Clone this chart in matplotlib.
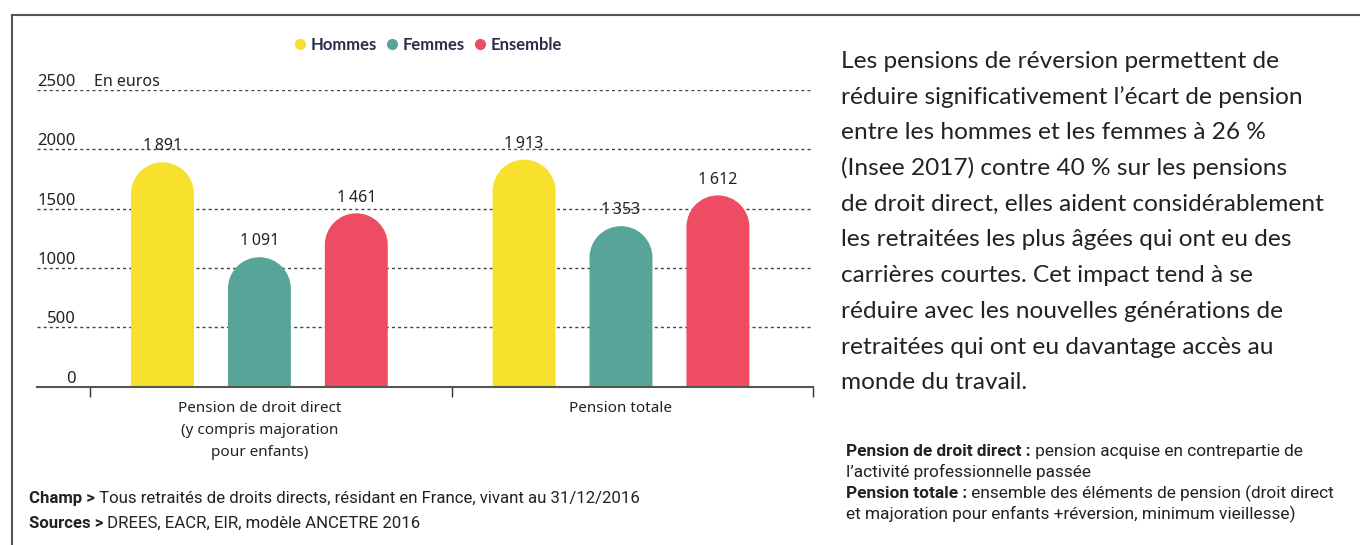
import matplotlib
matplotlib.use("Agg")
import matplotlib.pyplot as plt
import matplotlib.transforms as mtransforms
from matplotlib.patches import PathPatch
from matplotlib.path import Path
from matplotlib.lines import Line2D
from matplotlib import font_manager

# --- data -------------------------------------------------------------
categories = ["Pension de droit direct\n(y compris majoration\npour enfants)",
              "Pension totale"]
series_names = ["Hommes", "Femmes", "Ensemble"]
hommes = [1891, 1913]
femmes = [1091, 1353]
ensemble = [1461, 1612]
y_ticks = [0, 500, 1000, 1500, 2000, 2500]
colors = ["#f7e12c", "#56a598", "#ee4c62"]

paragraph = [
    "Les pensions de réversion permettent de",
    "réduire significativement l\u2019écart de pension",
    "entre les hommes et les femmes à 26 %",
    "(Insee 2017) contre 40 % sur les pensions",
    "de droit direct, elles aident considérablement",
    "les retraitées les plus âgées qui ont eu des",
    "carrières courtes. Cet impact tend à se",
    "réduire avec les nouvelles générations de",
    "retraitées qui ont eu davantage accès au",
    "monde du travail.",
]
notes = [
    ("Pension de droit direct :", " pension acquise en contrepartie de"),
    ("", "l\u2019activité professionnelle passée"),
    ("Pension totale :", " ensemble des éléments de pension (droit direct"),
    ("", "et majoration pour enfants +réversion, minimum vieillesse)"),
]
footer = [
    ("Champ >", " Tous retraités de droits directs, résidant en France, vivant au 31/12/2016"),
    ("Sources >", " DREES, EACR, EIR, modèle ANCETRE 2016"),
]

# --- fonts ------------------------------------------------------------
installed = {f.name for f in font_manager.fontManager.ttflist}
if "Liberation Sans Narrow" in installed:
    narrow, notes_size, footer_size = "Liberation Sans Narrow", 14, 13.7
else:
    narrow, notes_size, footer_size = "Roboto", 12.4, 12.1
plt.rcParams["font.family"] = ["Noto Sans", "DejaVu Sans"]
text_color = "#222222"
navy = "#2e2b4d"

W, H = 1360, 545
fig = plt.figure(figsize=(W / 100, H / 100), dpi=100)


def fx(x):
    return x / W


def fy(y):
    return 1 - y / H


# frame (top and left edges)
fig.add_artist(Line2D([fx(12), 1], [fy(15), fy(15)], color="#555555", lw=1.5))
fig.add_artist(Line2D([fx(12), fx(12)], [fy(15), 0], color="#555555", lw=1.5))

# --- bar chart --------------------------------------------------------
ax = fig.add_axes([fx(37), fy(386.7), fx(776), (386.7 - 90) / H])

group_x = [0, 1]
offset = 0.268
width = 0.174
ax.set_xlim(-0.615, 1.531)
ax.set_ylim(0, 2500)

# pixels per data unit, needed to make the rounded tops circular
p0 = ax.transData.transform((0, 0))
p1 = ax.transData.transform((1, 1))
ppu_x, ppu_y = p1[0] - p0[0], p1[1] - p0[1]
ry = (width / 2) * ppu_x / ppu_y
arc = Path.arc(0, 180)


def rounded_bar(x, v, col):
    hw = width / 2
    top = v - ry
    arc_verts = [(x + hw * px, top + ry * py) for px, py in arc.vertices]
    verts = [(x - hw, 0), (x + hw, 0), (x + hw, top)] + arc_verts[1:] + [(x - hw, 0)]
    codes = ([Path.MOVETO, Path.LINETO, Path.LINETO] + list(arc.codes[1:])
             + [Path.CLOSEPOLY])
    ax.add_patch(PathPatch(Path(verts, codes), facecolor=col, lw=0, zorder=2))


for i, (vals, col) in enumerate(zip([hommes, femmes, ensemble], colors)):
    for gx, v in zip(group_x, vals):
        x = gx + (i - 1) * offset
        rounded_bar(x, v, col)
        ax.annotate(f"{v:,}".replace(",", "\u2009"), (x, v), xytext=(0, 8.5),
                    textcoords="offset points", ha="center", va="baseline",
                    fontsize=11.5, color=text_color)

# gridlines
ax.set_yticks(y_ticks)
ax.yaxis.grid(True, linestyle=(0, (2.2, 2.2)), color="#444444", lw=1)
ax.set_axisbelow(True)
ax.tick_params(axis="y", length=0, labelleft=False)

lbl_trans = mtransforms.offset_copy(ax.get_yaxis_transform(), fig=fig,
                                    y=4, units="dots")
for t in y_ticks:
    ax.text(0.050, t, str(t), transform=lbl_trans, ha="right",
            va="baseline", fontsize=12, color=text_color)
ax.text(0.074, 2500, "En euros", transform=lbl_trans, ha="left",
        va="baseline", fontsize=11.5, color=text_color)

# x axis: separators as minor ticks, labels at group centres
for s in ["top", "right", "left"]:
    ax.spines[s].set_visible(False)
ax.spines["bottom"].set_color("#555555")
ax.spines["bottom"].set_linewidth(1.5)
ax.set_xticks(group_x)
ax.set_xticklabels(categories, fontsize=11, color=text_color, linespacing=1.65)
ax.tick_params(axis="x", which="major", length=0, pad=10)
ax.set_xticks([-0.468, 0.532, 1.53], minor=True)
ax.tick_params(axis="x", which="minor", length=7, width=1, color="#333333")

# legend
handles = [Line2D([], [], marker="o", ls="", markersize=8, color=c,
                  markeredgewidth=0) for c in colors]
leg = ax.legend(handles, series_names, loc="center", ncol=3, frameon=False,
                bbox_to_anchor=(fx(429), fy(45)), bbox_transform=fig.transFigure,
                handlelength=0.5, handletextpad=0.35, columnspacing=0.7,
                prop={"family": "Lato", "weight": "bold", "size": 12})
for t in leg.get_texts():
    t.set_color(navy)

# --- texts around the chart -------------------------------------------
renderer = fig.canvas.get_renderer()


def bold_then_regular(x, y, bold, regular, size):
    x_px = x
    if bold:
        t = fig.text(fx(x), fy(y), bold, family=narrow, weight="bold",
                     size=size, color=text_color, va="baseline")
        x_px = t.get_window_extent(renderer=renderer).x1
    fig.text(fx(x_px), fy(y), regular, family=narrow, size=size,
             color=text_color, va="baseline")


for i, line in enumerate(paragraph):
    fig.text(fx(841), fy(68 + i * 35.7), line, family="Lato", size=17.6,
             color=text_color, va="baseline")

for i, (b, r) in enumerate(notes):
    bold_then_regular(846, 456 + i * 21, b, r, notes_size)

for i, (b, r) in enumerate(footer):
    bold_then_regular(29, 503 + i * 25, b, r, footer_size)

fig.savefig("out.png", dpi=100)
